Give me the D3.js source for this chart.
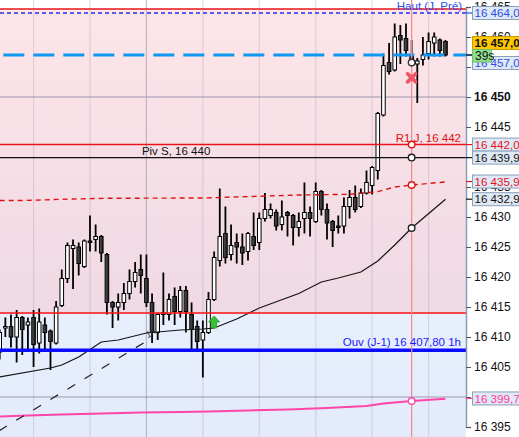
<!DOCTYPE html>
<html><head><meta charset="utf-8">
<script src="https://cdn.jsdelivr.net/npm/d3@7"></script>
<style>body{margin:0;background:#fff;overflow:hidden}svg{display:block;font-family:"Liberation Sans",Arial,sans-serif}</style>
</head><body><svg id="c" width="519" height="437"></svg>
<script>
// ---------- DATA ----------
const opens = [
16407.5,16411.5,16411.75,16410,16413.25,16412,16413.25,16409,16412,16411,
16409,16415.25,16419.75,16424.75,16425,16421.75,16426,16426.25,16426.75,16423.75,
16415.75,16415,16415.75,16417.25,16419.25,16421.25,16419.75,16415.75,16410.75,16413.75,
16413.75,16416.75,16414.25,16417.75,16413.75,16411.75,16409.5,16410.75,16416.25,16422.75,
16427.25,16423.75,16425.75,16425,16424.25,16426.75,16425.75,16429.75,16430.25,16430.75,
16428.75,16430.75,16430.25,16428.25,16429.75,16430.75,16429.25,16434.25,16431.25,16429.25,
16428.5,16428.5,16431.75,16433.25,16431.75,16434,16435.25,16437.75,16447,16455.75,
16454.5,16460.25,16459.75,16457,16455.5,16456.25,16457.25,16459,16459.5,16459.25];
const highs = [
16411.25,16413.25,16413.75,16414.5,16413.5,16413.25,16414.5,16414.75,16413.25,16411.25,
16416,16421.25,16425.75,16426.25,16425.75,16426.25,16430.25,16428.75,16427,16424,
16416,16417.25,16419,16421.25,16422.5,16423.75,16423.75,16417.25,16414,16420.75,
16417.25,16418.25,16418.5,16418.5,16415.75,16412.75,16412.75,16417.5,16424.25,16434.75,
16431.75,16428.75,16427.25,16427.25,16427.5,16430.75,16430.75,16434,16432.25,16431.25,
16432.75,16431,16430.5,16430.75,16435.75,16431.75,16435.75,16434.5,16432.25,16429.5,
16430.25,16433.25,16434.5,16435.25,16434.75,16437.75,16438.5,16447.5,16457.25,16459,
16462.25,16462,16462.25,16459.5,16456.5,16460,16460.75,16460.75,16459.75,16459.5];
const lows = [
16406.25,16410,16408.25,16405.75,16407,16407.75,16405,16407.25,16407.5,16404.5,
16408.75,16415,16419,16418,16420.25,16421.5,16424.25,16424.25,16422.5,16413.75,
16411.5,16412.75,16414.5,16416.25,16418.25,16417.25,16415,16409,16409.5,16412,
16412.75,16412,16413.25,16410.75,16407.75,16407.75,16403.25,16410.5,16416,16421.75,
16422.25,16422.75,16422.25,16422,16422.75,16424.5,16424.5,16429.25,16429.75,16427.75,
16427.75,16426.75,16425.25,16426.75,16427.25,16426.75,16429,16430.25,16426.25,16425,
16427.25,16427.25,16429.75,16430.75,16431.5,16433.75,16433.75,16436.25,16446.75,16453.75,
16454.25,16455.5,16456.75,16455.25,16449,16455.25,16456.25,16456.75,16456.75,16456.75];
const closes = [
16410.75,16411.75,16410,16413.25,16411.25,16412.5,16408.75,16412.5,16410.75,16409.25,
16415,16419.75,16425.25,16425.25,16422.25,16426,16425.75,16426.75,16424,16415.75,
16415,16415.75,16417.25,16419.25,16420.75,16420.25,16415.75,16410.75,16413.75,16414,
16416.25,16414.25,16417.75,16414.25,16411.25,16409.25,16410.75,16416.25,16423.25,16426.75,
16423.25,16425.25,16425,16424,16427.25,16425.25,16429.75,16431.25,16431.25,16428.5,
16430,16430.25,16428.25,16429.25,16430.75,16429.75,16434.25,16431.25,16429,16427.75,
16428.25,16431.75,16433.25,16431.25,16434,16435.75,16438.25,16447.25,16455.25,16454.25,
16460,16459.5,16457.75,16455.75,16456,16457,16459.25,16460,16457.75,16457];

// moving averages (candle index, price)
const blackMAIdx = [0,9,11,14,18,21,26,32,36,38,42,46,53,57,60,64,67,70,73,79];
const blackMAVal = [16403.33,16404.83,16405.33,16406.67,16409.17,16409.5,16410.67,16411.17,16411.33,16411.5,16413,16414.83,16417.25,16419.17,16419.83,16420.83,16422.67,16425.33,16428.17,16432.97];
const redMAIdx = [0,4,13,19,36,44,53,62,67,70,73,79];
const redMAVal = [16432.75,16432.75,16433,16433.12,16433.17,16433.4,16433.67,16433.78,16434.22,16435,16435.33,16435.85];
const pinkMAIdx = [0,5,11,18,25,32,37,44,51,58,65,68,73,79];
const pinkMAVal = [16396.75,16396.92,16397.08,16397.25,16397.42,16397.5,16397.58,16397.75,16397.92,16398.17,16398.5,16398.92,16399.33,16399.7];
const trendIdx = [-0.1, 26];
const trendVal = [16394.38, 16409.3];

// horizontal levels
const topLevel = 16464.67;
const hautLevel = 16464;
const r1Level = 16442.07;
const pivLevel = 16439.9;
const zoneLow = 16414;
const ouvLevel = 16407.8;
const lastPrice = 16457;
const levelNames = ["Haut (J, Pré)", "R1 J, 16 442", "Piv S, 16 440", "Ouv (J-1) 16 407,80 1h"];
const priceTicks = [16395,16400,16405,16410,16415,16420,16425,16430,16435,16440,16445,16450,16455,16460,16465];
const hiddenTickLabels = [16400,16440,16455];
const majorTicks = [16400,16450];
const boxValues = [16464, 16442.07, 16439.9, 16435.91, 16432.97, 16399.76];
const timerText = "39s";
const gridIdx = [6,16,26,36,46,56,66,76];
const markerIdx = 73;
const crossVal = 16453.2;
const arrowIdx = 38, arrowVal = 16412.5;

// ---------- DRAW ----------
const W = 519, H = 437, axisX = 466;
const svg = d3.select("#c");
const x = d3.scaleLinear().domain([0,79]).range([-0.3,445.5]);
const y = d3.scaleLinear().domain([16395,16465]).range([427,7]);
const fr = d3.formatLocale({decimal:",",thousands:" ",grouping:[3],currency:["","€"]});
const fmtTick = fr.format(",d"), fmtPrice = fr.format(",.2f");

const defs = svg.append("defs");
const gp = defs.append("linearGradient").attr("id","gPink").attr("x1",0).attr("x2",0).attr("y1",0).attr("y2",1);
gp.append("stop").attr("offset",0).attr("stop-color","#fde5e8");
gp.append("stop").attr("offset",1).attr("stop-color","#efd9e4");
const gb = defs.append("linearGradient").attr("id","gBlue").attr("x1",0).attr("x2",0).attr("y1",0).attr("y2",1);
gb.append("stop").attr("offset",0).attr("stop-color","#e8effc");
gb.append("stop").attr("offset",1).attr("stop-color","#e3eafa");
const gk = defs.append("linearGradient").attr("id","gBlack").attr("x1",0).attr("x2",1).attr("y1",0).attr("y2",0);
gk.append("stop").attr("offset",0).attr("stop-color","#5c5c5c");
gk.append("stop").attr("offset",1).attr("stop-color","#151515");
defs.append("clipPath").attr("id","plot").append("rect").attr("x",0).attr("y",0).attr("width",axisX).attr("height",H);

const plot = svg.append("g").attr("clip-path","url(#plot)");
plot.append("rect").attr("x",0).attr("width",axisX).attr("y",y(topLevel)).attr("height",y(zoneLow)-y(topLevel)).attr("fill","url(#gPink)");
plot.append("rect").attr("x",0).attr("width",axisX).attr("y",y(zoneLow)).attr("height",H-y(zoneLow)).attr("fill","url(#gBlue)");

// vertical grid
plot.selectAll("line.vg").data(gridIdx).join("line")
  .attr("x1",d=>x(d)).attr("x2",d=>x(d)).attr("y1",0).attr("y2",H)
  .attr("stroke",d=>d===26?"rgba(150,150,175,0.6)":"rgba(170,150,180,0.3)").attr("stroke-width",1.2);
// horizontal major grid
plot.selectAll("line.hg").data(majorTicks).join("line")
  .attr("x1",0).attr("x2",axisX).attr("y1",d=>y(d)).attr("y2",d=>y(d))
  .attr("stroke","rgba(160,150,175,0.5)").attr("stroke-width",2.2);

// candles
const idx = d3.range(opens.length);
plot.selectAll("line.wick").data(idx).join("line")
  .attr("x1",i=>x(i)).attr("x2",i=>x(i)).attr("y1",i=>y(highs[i])).attr("y2",i=>y(lows[i]))
  .attr("stroke","#000").attr("stroke-width",1.8);
plot.selectAll("rect.body").data(idx).join("rect")
  .attr("x",i=>x(i)-1.8).attr("width",3.6)
  .attr("y",i=>y(Math.max(opens[i],closes[i])))
  .attr("height",i=>Math.max(1,Math.abs(y(opens[i])-y(closes[i]))))
  .attr("fill",i=>closes[i]>=opens[i]?"#fff":"url(#gBlack)")
  .attr("stroke","#000").attr("stroke-width",1);

// moving averages
const ln = d3.line().x(d=>x(d[0])).y(d=>y(d[1]));
plot.append("path").attr("d",ln(d3.zip(pinkMAIdx,pinkMAVal))).attr("fill","none").attr("stroke","#ff45a8").attr("stroke-width",2);
plot.append("path").attr("d",ln(d3.zip(blackMAIdx,blackMAVal))).attr("fill","none").attr("stroke","#141414").attr("stroke-width",1.2);
plot.append("path").attr("d",ln(d3.zip(redMAIdx,redMAVal))).attr("fill","none").attr("stroke","#e01010").attr("stroke-width",1.4).attr("stroke-dasharray","5,4");
plot.append("path").attr("d",ln(d3.zip(trendIdx,trendVal))).attr("fill","none").attr("stroke","#222").attr("stroke-width",1.2).attr("stroke-dasharray","9,11");

// level lines
const hl = (v,col,w,dash)=>plot.append("line").attr("x1",0).attr("x2",axisX).attr("y1",y(v)).attr("y2",y(v))
  .attr("stroke",col).attr("stroke-width",w).attr("stroke-dasharray",dash||null);
hl(topLevel,"#e8141c",1.5);
hl(hautLevel,"#2030f0",1.3,"4,3");
hl(r1Level,"#e8141c",1.5);
hl(pivLevel,"#111",1.3);
hl(zoneLow,"#ff1010",1.5);
hl(ouvLevel,"#0a0aff",3.6);
plot.append("line").attr("x1",3.3).attr("x2",axisX).attr("y1",y(lastPrice)).attr("y2",y(lastPrice))
  .attr("stroke","#0d98f2").attr("stroke-width",3).attr("stroke-dasharray","21,9");

// marker vertical
const mx = x(markerIdx);
plot.append("line").attr("x1",mx).attr("x2",mx).attr("y1",0).attr("y2",H).attr("stroke","#f08a8a").attr("stroke-width",1.2);
const circ = [[closes[markerIdx],"#333"],[r1Level,"#e01010"],[pivLevel,"#222"],
  [redMAVal[redMAIdx.indexOf(markerIdx)],"#e01010"],[blackMAVal[blackMAIdx.indexOf(markerIdx)],"#222"],[pinkMAVal[pinkMAIdx.indexOf(markerIdx)],"#ff45a8"]];
plot.selectAll("circle.m").data(circ).join("circle").attr("cx",mx).attr("cy",d=>y(d[0])).attr("r",3.3)
  .attr("fill","#fff").attr("stroke",d=>d[1]).attr("stroke-width",1.4);
plot.append("path").attr("d",d3.symbol().type(d3.symbolX).size(45)()).attr("transform",`translate(${mx},${y(crossVal)})`)
  .attr("fill","none").attr("stroke","#ee5566").attr("stroke-width",3.6).attr("stroke-linecap","round");
plot.append("path").attr("d","M0,-6L5.5,0L2.5,0L2.5,6L-2.5,6L-2.5,0L-5.5,0Z")
  .attr("transform",`translate(${x(arrowIdx)},${y(arrowVal)})`).attr("fill","#3cc03c").attr("stroke","#229a22").attr("stroke-width",0.8);

// level labels
const lab = (t,xx,yy,col,anchor)=>svg.append("text").attr("x",xx).attr("y",yy).attr("fill",col)
  .attr("font-size",11.5).attr("text-anchor",anchor).text(t);
lab(levelNames[0],462,y(hautLevel)-3,"#2a4ff0","end");
lab(levelNames[1],461,y(r1Level)-3,"#e01010","end");
lab(levelNames[2],x(25.2),y(pivLevel)-3,"#111","start");
lab(levelNames[3],461,y(ouvLevel)-4,"#1a1aff","end");
// trend label
svg.append("text").attr("transform",`translate(${x(26.3)},${y(16409.8)}) rotate(-32)`).attr("font-size",9).attr("fill","#333").attr("font-style","italic").text("1h");

// axis
const ax = svg.append("g").attr("transform",`translate(${axisX},0)`)
  .call(d3.axisRight(y).tickValues(priceTicks).tickSize(5).tickPadding(3)
    .tickFormat(d=>hiddenTickLabels.includes(d)?"":fmtTick(d)));
ax.select(".domain").attr("stroke","#8c9db0").attr("stroke-width",1.5);
ax.selectAll(".tick line").attr("stroke","#556");
ax.selectAll(".tick text").attr("font-size",12).attr("fill","#111").attr("font-family","Liberation Sans, Arial, sans-serif")
  .attr("font-weight",d=>majorTicks.includes(d)?"bold":"normal");

// price boxes
const boxCols = ["#2a50e6","#e8101a","#111","#e8101a","#111","#ff3aa0"];
const box = (v,yc,txt,col,fill,stroke,bold,wid)=>{
  svg.append("line").attr("x1",axisX).attr("x2",472).attr("y1",y(v)).attr("y2",y(v)).attr("stroke",col).attr("stroke-width",1.2);
  svg.append("rect").attr("x",472.5).attr("y",yc-6.5).attr("width",wid||50).attr("height",13).attr("fill",fill).attr("stroke",stroke).attr("stroke-width",1);
  svg.append("text").attr("x",474.5).attr("y",yc+4.2).attr("font-size",11.6).attr("fill",col).attr("font-weight",bold?"bold":"normal").text(txt);
};
boxValues.forEach((v,k)=>box(v,y(v),fmtPrice(v),boxCols[k],"#dfe8f5","#8aa0bb",false));
box(lastPrice,y(lastPrice)+8,fmtPrice(lastPrice),"#2a50e6","#dfe8f5","#8aa0bb",false);
box(lastPrice,y(lastPrice)-12,fmtPrice(lastPrice),"#111","#ffc800","#cc9a00",true);
svg.append("rect").attr("x",472.5).attr("y",y(lastPrice)-5.5).attr("width",19).attr("height",12.5).attr("fill","#8fe08f").attr("stroke","#6cbf6c");
svg.append("text").attr("x",475).attr("y",y(lastPrice)+5).attr("font-size",12).attr("fill","#111").text(timerText);
</script></body></html>
